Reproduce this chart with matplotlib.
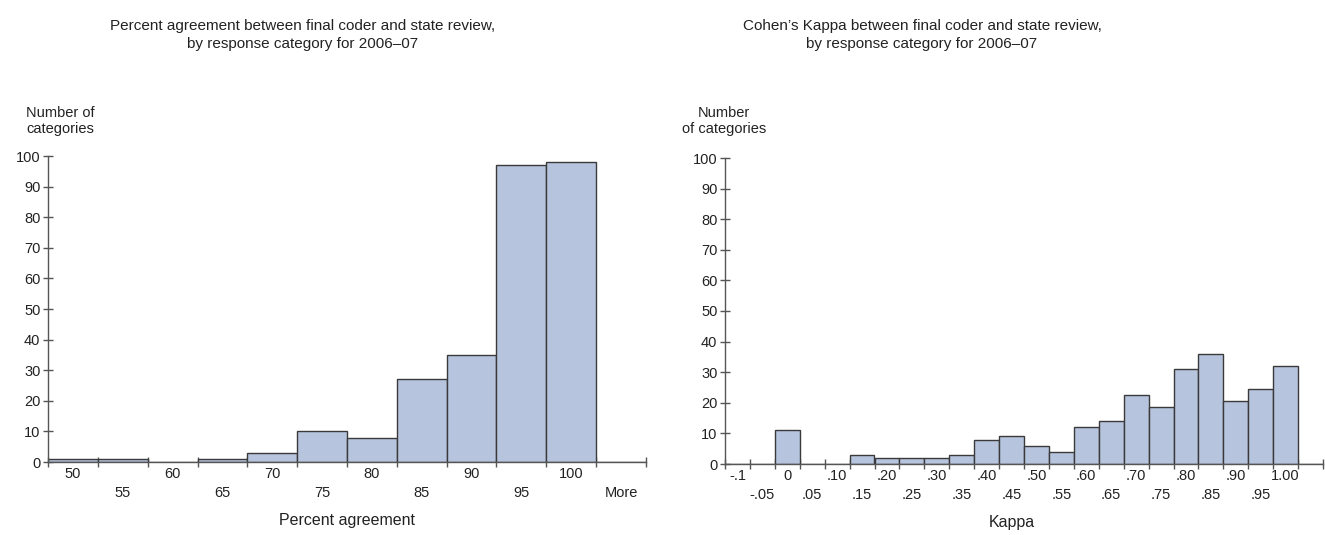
import matplotlib.pyplot as plt
import numpy as np

plt.rcParams['font.family'] = ['Liberation Sans', 'DejaVu Sans']

# --- data ---
pct_labels = ['50', '55', '60', '65', '70', '75', '80', '85', '90', '95', '100', 'More']
pct_counts = [1, 1, 0, 1, 3, 10, 8, 27, 35, 97, 98, 0]

kappa_labels = ['-.1', '-.05', '0', '.05', '.10', '.15', '.20', '.25', '.30', '.35',
                '.40', '.45', '.50', '.55', '.60', '.65', '.70', '.75', '.80', '.85',
                '.90', '.95', '1.00', '']
kappa_counts = [0, 0, 11, 0, 0, 3, 2, 2, 2, 3, 8, 9, 6, 4, 12, 14, 22.5, 18.5,
                31, 36, 20.5, 24.5, 32, 0]

yticks = list(range(0, 101, 10))

BAR = '#B7C4DE'
EDGE = '#3a3a3a'
AX = '#555555'
TXT = '#222222'

W, H = 1325, 535
fig = plt.figure(figsize=(W / 100, H / 100), dpi=100)


def px_axes(x0, x1, y_top, y_bot):
    return fig.add_axes([x0 / W, 1 - y_bot / H, (x1 - x0) / W, (y_bot - y_top) / H])


def draw_hist(ax, labels, counts):
    n = len(labels)
    centers = np.arange(n) + 0.5
    ax.bar(centers, counts, width=1.0, color=BAR, edgecolor=EDGE, linewidth=1.0, zorder=2)
    ax.set_xlim(0, n)
    ax.set_ylim(0, 100)
    for s in ['top', 'right']:
        ax.spines[s].set_visible(False)
    for s in ['left', 'bottom']:
        ax.spines[s].set_color(AX)
        ax.spines[s].set_linewidth(1.0)
    ax.set_yticks(yticks)
    ax.tick_params(axis='y', direction='inout', length=7, width=1, color=AX,
                   labelsize=10.5, labelcolor=TXT, pad=2)
    ax.set_xticks(np.arange(n + 1))
    ax.set_xticklabels([])
    ax.tick_params(axis='x', direction='inout', length=7, width=1, color=AX)
    trans = ax.get_xaxis_transform()
    for i, lab in enumerate(labels):
        dy = -0.04 if i % 2 == 0 else -0.1
        ax.text(centers[i], dy, lab, transform=trans, ha='center', va='center',
                fontsize=10.5, color=TXT)


# left panel
ax1 = px_axes(48, 646, 156, 462)
draw_hist(ax1, pct_labels, pct_counts)
fig.text(303 / W, 1 - 35 / H,
         'Percent agreement between final coder and state review,\nby response category for 2006\u201307',
         ha='center', va='center', fontsize=11, color=TXT, linespacing=1.3)
fig.text(26 / W, 1 - 121 / H, 'Number of\ncategories', ha='left', va='center',
         fontsize=10.5, color=TXT, linespacing=1.25)
fig.text(347 / W, 1 - 520 / H, 'Percent agreement', ha='center', va='center',
         fontsize=11.5, color=TXT)

# right panel
ax2 = px_axes(725, 1323, 158, 464)
draw_hist(ax2, kappa_labels, kappa_counts)
fig.text(922 / W, 1 - 35 / H,
         'Cohen\u2019s Kappa between final coder and state review,\nby response category for 2006\u201307',
         ha='center', va='center', fontsize=11, color=TXT, linespacing=1.3)
fig.text(724 / W, 1 - 121 / H, 'Number\nof categories', ha='center', va='center',
         fontsize=10.5, color=TXT, linespacing=1.25)
fig.text(1012 / W, 1 - 522 / H, 'Kappa', ha='center', va='center',
         fontsize=11.5, color=TXT)

fig.savefig('out.png', dpi=100)
